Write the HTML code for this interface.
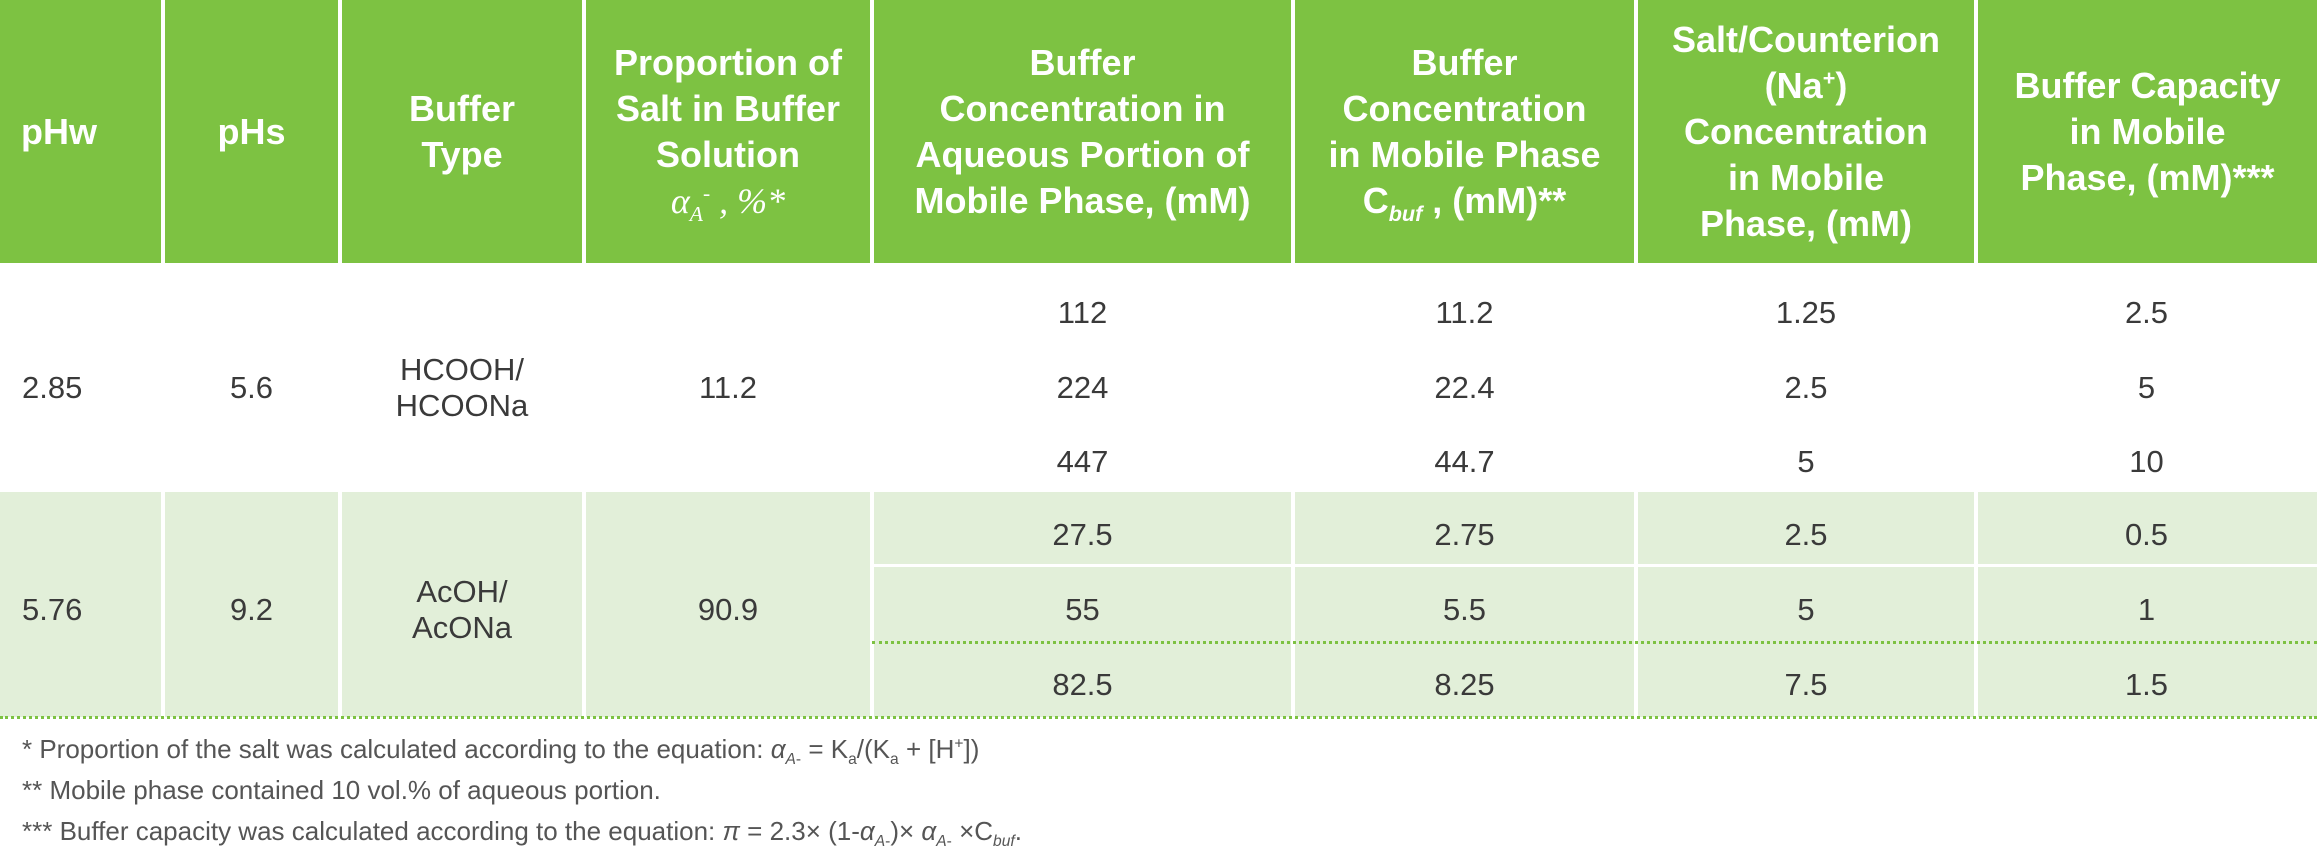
<!DOCTYPE html>
<html><head><meta charset="utf-8">
<style>
html,body{margin:0;padding:0;background:#fff;}
body{width:2317px;height:862px;position:relative;overflow:hidden;font-family:"Liberation Sans",sans-serif;}
.h{position:absolute;top:0;height:263px;background:#7dc242;color:#fff;font-weight:bold;font-size:36px;line-height:46px;display:flex;align-items:center;justify-content:center;text-align:center;white-space:nowrap;}
.h > div{display:block;}
.g{position:absolute;background:#e2efd9;}
.t{position:absolute;font-size:31px;color:#3a3a3a;text-align:center;line-height:36px;transform:translateY(-50%);}
.dot{position:absolute;height:0;border-top:3px dotted #7dc242;}
.fn{position:absolute;left:22px;font-family:"Liberation Sans Narrow","Liberation Sans",sans-serif;font-stretch:condensed;font-size:26px;color:#555;white-space:nowrap;}
sub,sup{font-size:60%;line-height:0;}
</style></head><body>
<div class="h" style="left:0;width:161px;justify-content:flex-start;padding-left:21px;box-sizing:border-box;"><div>pHw</div></div>
<div class="h" style="left:165px;width:173px;"><div>pHs</div></div>
<div class="h" style="left:342px;width:240px;"><div>Buffer<br>Type</div></div>
<div class="h" style="left:586px;width:284px;"><div>Proportion of<br>Salt in Buffer<br>Solution<br><span style="font-weight:normal;font-style:italic;font-family:'Liberation Serif',serif;">α<sub>A</sub><sup>-</sup> , %*</span></div></div>
<div class="h" style="left:874px;width:417px;"><div>Buffer<br>Concentration in<br>Aqueous Portion of<br>Mobile Phase, (mM)</div></div>
<div class="h" style="left:1295px;width:339px;"><div>Buffer<br>Concentration<br>in Mobile Phase<br>C<sub><i>buf</i></sub> , (mM)**</div></div>
<div class="h" style="left:1638px;width:336px;"><div>Salt/Counterion<br>(Na<sup>+</sup>)<br>Concentration<br>in Mobile<br>Phase, (mM)</div></div>
<div class="h" style="left:1978px;width:339px;"><div>Buffer Capacity<br>in Mobile<br>Phase, (mM)***</div></div>

<div class="t" style="left:22px;top:388px;text-align:left;">2.85</div>
<div class="t" style="left:163px;width:177px;top:388px;">5.6</div>
<div class="t" style="left:340px;width:244px;top:388px;">HCOOH/<br>HCOONa</div>
<div class="t" style="left:584px;width:288px;top:388px;">11.2</div>
<div class="t" style="left:872px;width:421px;top:313px;">112</div>
<div class="t" style="left:872px;width:421px;top:388px;">224</div>
<div class="t" style="left:872px;width:421px;top:462px;">447</div>
<div class="t" style="left:1293px;width:343px;top:313px;">11.2</div>
<div class="t" style="left:1293px;width:343px;top:388px;">22.4</div>
<div class="t" style="left:1293px;width:343px;top:462px;">44.7</div>
<div class="t" style="left:1636px;width:340px;top:313px;">1.25</div>
<div class="t" style="left:1636px;width:340px;top:388px;">2.5</div>
<div class="t" style="left:1636px;width:340px;top:462px;">5</div>
<div class="t" style="left:1976px;width:341px;top:313px;">2.5</div>
<div class="t" style="left:1976px;width:341px;top:388px;">5</div>
<div class="t" style="left:1976px;width:341px;top:462px;">10</div>

<div class="g" style="left:0;top:492px;width:161px;height:225px;"></div>
<div class="g" style="left:165px;top:492px;width:173px;height:225px;"></div>
<div class="g" style="left:342px;top:492px;width:240px;height:225px;"></div>
<div class="g" style="left:586px;top:492px;width:284px;height:225px;"></div>
<div class="g" style="left:874px;top:492px;width:417px;height:72px;"></div>
<div class="g" style="left:874px;top:567px;width:417px;height:150px;"></div>
<div class="g" style="left:1295px;top:492px;width:339px;height:72px;"></div>
<div class="g" style="left:1295px;top:567px;width:339px;height:150px;"></div>
<div class="g" style="left:1638px;top:492px;width:336px;height:72px;"></div>
<div class="g" style="left:1638px;top:567px;width:336px;height:150px;"></div>
<div class="g" style="left:1978px;top:492px;width:339px;height:72px;"></div>
<div class="g" style="left:1978px;top:567px;width:339px;height:150px;"></div>
<div class="dot" style="left:872px;width:1445px;top:641px;"></div>
<div class="dot" style="left:0;width:2317px;top:716px;"></div>

<div class="t" style="left:22px;top:610px;text-align:left;">5.76</div>
<div class="t" style="left:163px;width:177px;top:610px;">9.2</div>
<div class="t" style="left:340px;width:244px;top:610px;">AcOH/<br>AcONa</div>
<div class="t" style="left:584px;width:288px;top:610px;">90.9</div>
<div class="t" style="left:872px;width:421px;top:535px;">27.5</div>
<div class="t" style="left:872px;width:421px;top:610px;">55</div>
<div class="t" style="left:872px;width:421px;top:685px;">82.5</div>
<div class="t" style="left:1293px;width:343px;top:535px;">2.75</div>
<div class="t" style="left:1293px;width:343px;top:610px;">5.5</div>
<div class="t" style="left:1293px;width:343px;top:685px;">8.25</div>
<div class="t" style="left:1636px;width:340px;top:535px;">2.5</div>
<div class="t" style="left:1636px;width:340px;top:610px;">5</div>
<div class="t" style="left:1636px;width:340px;top:685px;">7.5</div>
<div class="t" style="left:1976px;width:341px;top:535px;">0.5</div>
<div class="t" style="left:1976px;width:341px;top:610px;">1</div>
<div class="t" style="left:1976px;width:341px;top:685px;">1.5</div>

<div class="fn" style="top:734px;">* Proportion of the salt was calculated according to the equation: <i>α</i><sub><i>A</i>-</sub> = K<sub>a</sub>/(K<sub>a</sub> + [H<sup>+</sup>])</div>
<div class="fn" style="top:775px;">** Mobile phase contained 10 vol.% of aqueous portion.</div>
<div class="fn" style="top:816px;">*** Buffer capacity was calculated according to the equation: <i>π</i> = 2.3× (1-<i>α</i><sub><i>A</i>-</sub>)× <i>α</i><sub><i>A</i>-</sub> ×C<sub><i>buf</i></sub>.</div>
</body></html>
